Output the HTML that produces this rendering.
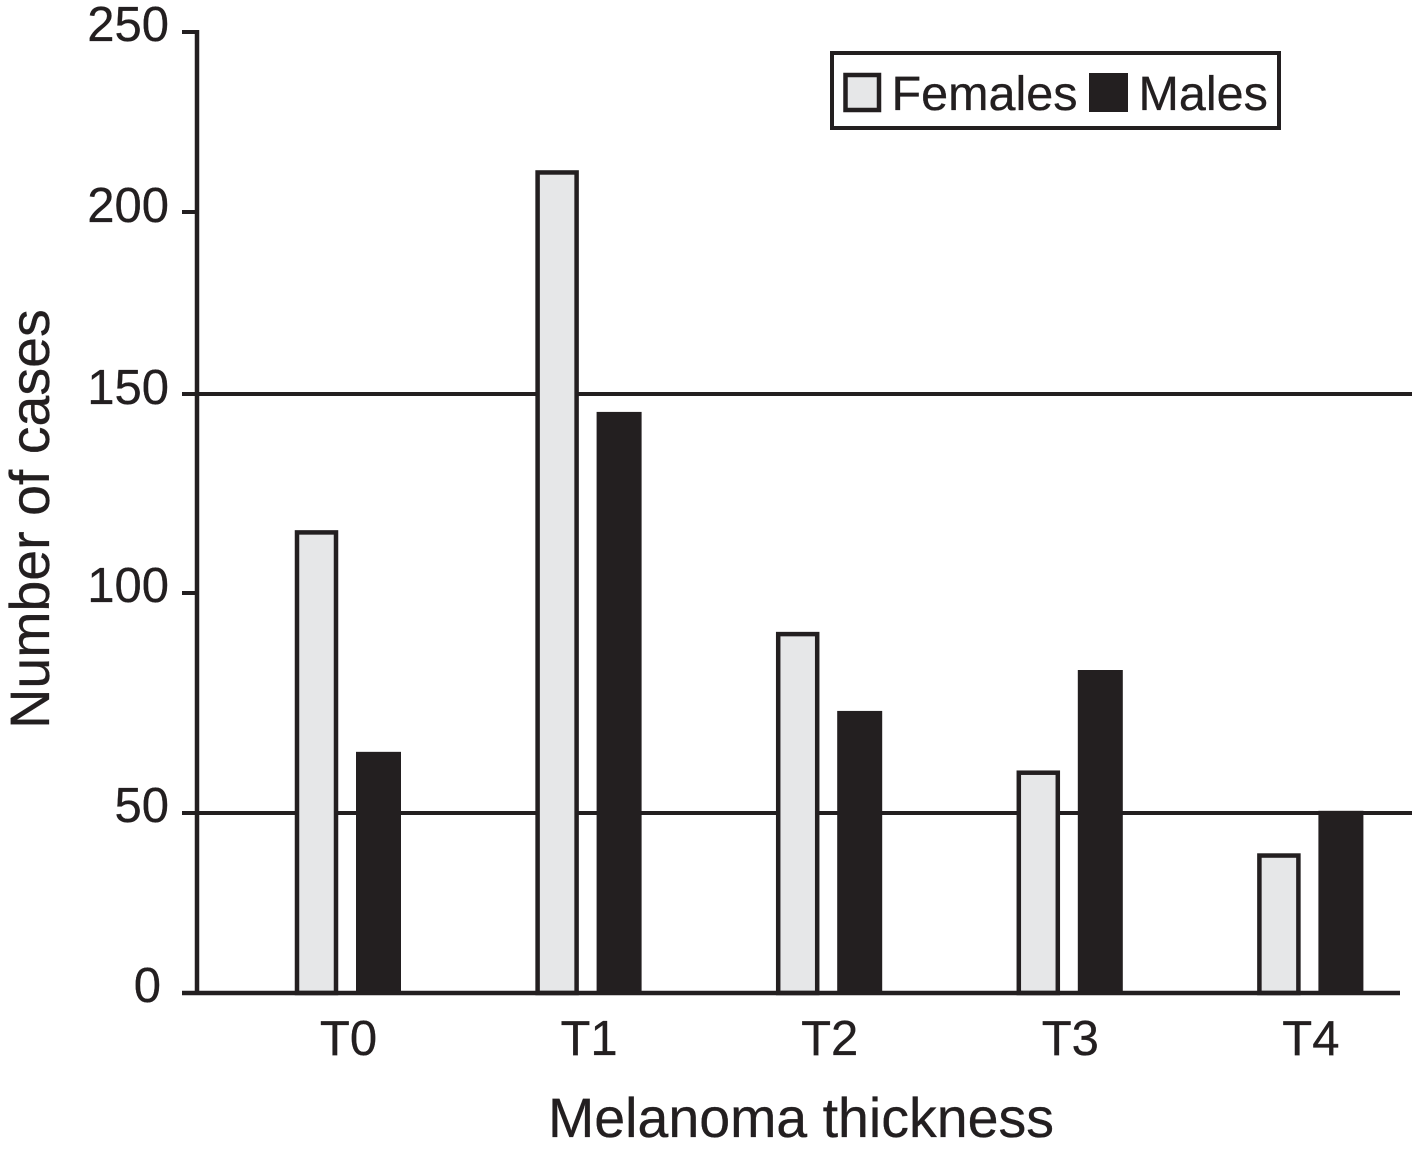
<!DOCTYPE html>
<html lang="en">
<head>
<meta charset="utf-8">
<title>Melanoma thickness by sex</title>
<style>
  html, body { margin: 0; padding: 0; background: #fff; }
  svg { display: block; }
  text { font-family: "Liberation Sans", sans-serif; fill: #231f20; stroke: #231f20; stroke-width: 0.3px; }
</style>
</head>
<body>
<svg id="chart" xmlns="http://www.w3.org/2000/svg" width="1412" height="1164" viewBox="0 0 1412 1164">
  <g id="grid"></g>
  <g id="bars"></g>
  <g id="axes"></g>
  <text transform="translate(49,519) rotate(-90)" text-anchor="middle" font-size="55.5">Number of cases</text>
  <text x="801" y="1137" text-anchor="middle" font-size="55.5">Melanoma thickness</text>
  <g>
    <rect x="832" y="53" width="447" height="75" fill="#fff" stroke="#231f20" stroke-width="4"></rect>
    <rect x="845.5" y="75" width="33.5" height="35" fill="#e6e7e8" stroke="#231f20" stroke-width="4.5"></rect>
    <text x="891.5" y="110" font-size="48.5">Females</text>
    <rect x="1089" y="73" width="39" height="39" fill="#231f20"></rect>
    <text x="1138.5" y="110" font-size="48.5">Males</text>
  </g>
</svg>
<script>
const categories = ["T0", "T1", "T2", "T3", "T4"];
const females = [115.6, 211.4, 91, 59.5, 38.6];
const males = [63.9, 145.5, 73.2, 82.5, 50.5];
const yTicks = [0, 50, 100, 150, 200, 250];
const gridValues = [50, 150];

const svgNS = "http://www.w3.org/2000/svg";
const ink = "#231f20";

// The printed axis is unevenly spaced, so the scale is piecewise between its tick marks.
function yScale(v) {
  const knotValues = [0, 50, 100, 150, 200, 250];
  const knotPixels = [993, 813, 593, 394, 212, 32];
  let i = 0;
  while (i < knotValues.length - 2 && v > knotValues[i + 1]) i++;
  const t = (v - knotValues[i]) / (knotValues[i + 1] - knotValues[i]);
  return knotPixels[i] + t * (knotPixels[i + 1] - knotPixels[i]);
}
function xCenter(i) {
  return 348 + i * 240.6;
}
function make(tag, attrs, parent) {
  const el = document.createElementNS(svgNS, tag);
  for (const k in attrs) el.setAttribute(k, attrs[k]);
  parent.appendChild(el);
  return el;
}

const gridG = document.getElementById("grid");
const barsG = document.getElementById("bars");
const axesG = document.getElementById("axes");

gridValues.forEach(function (v) {
  const line = make("line", { x1: 197, x2: 1412, y1: yScale(v), y2: yScale(v), stroke: ink, "stroke-width": 4 }, gridG);
  
  
});

categories.forEach(function (cat, i) {
  const c = xCenter(i);
  const base = yScale(0);
  const fTop = yScale(females[i]);
  const fBar = make("rect", { x: c - 51, y: fTop + 1.5, width: 39, height: base - fTop - 1.5, fill: "#e6e7e8", stroke: ink, "stroke-width": 4.5 }, barsG);
  
  
  const mTop = yScale(males[i]);
  const mBar = make("rect", { x: c + 8, y: mTop, width: 45, height: base - mTop, fill: ink }, barsG);
  
  
  const label = make("text", { x: c + 0.5, y: 1055, "text-anchor": "middle", "font-size": 49 }, axesG);
  label.textContent = cat;
  
  
});

const yAxis = make("line", { x1: 197, x2: 197, y1: yScale(250) - 2, y2: yScale(0) + 2, stroke: ink, "stroke-width": 4.5 }, axesG);


const xAxis = make("line", { x1: 182, x2: 1400, y1: yScale(0), y2: yScale(0), stroke: ink, "stroke-width": 4.5 }, axesG);



yTicks.forEach(function (v) {
  const y = yScale(v);
  const tick = make("line", { x1: 182, x2: 197, y1: y, y2: y, stroke: ink, "stroke-width": 4 }, axesG);
  
  
  const label = make("text", { x: v === 0 ? 161 : 169, y: y + (v === 250 ? 9 : v >= 150 ? 10 : 9), "text-anchor": "end", "font-size": 49 }, axesG);
  label.textContent = v;
  
  
});
</script>
</body>
</html>
